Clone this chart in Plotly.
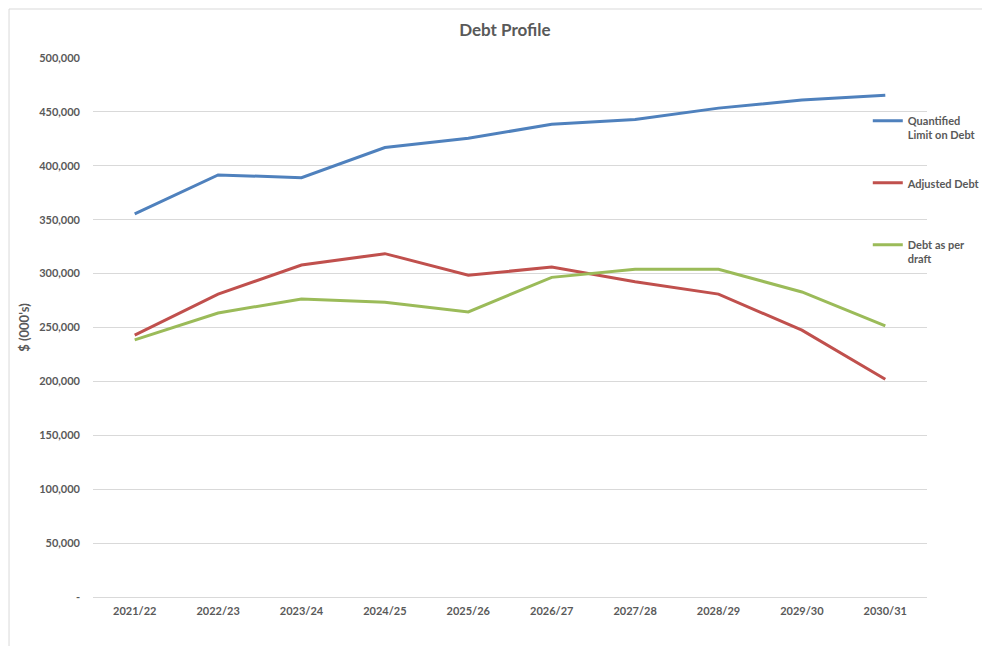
import plotly.graph_objects as go

years = ["2021/22", "2022/23", "2023/24", "2024/25", "2025/26",
         "2026/27", "2027/28", "2028/29", "2029/30", "2030/31"]
quantified_limit = [355500, 391500, 389000, 417000, 425500,
                    438500, 443000, 453500, 461000, 465500]
adjusted_debt = [243000, 281000, 308000, 318500, 298500,
                 306000, 292500, 281000, 247500, 202000]
debt_draft = [238500, 263500, 276500, 273500, 264500,
              296500, 304000, 304000, 283000, 251500]

y_ticks = [0, 50000, 100000, 150000, 200000, 250000,
           300000, 350000, 400000, 450000, 500000]
y_tick_text = ["-", "50,000", "100,000", "150,000", "200,000", "250,000",
               "300,000", "350,000", "400,000", "450,000", "500,000"]

FONT = "Lato"
GREY = "#595959"

series = [
    ("Quantified<br>Limit on Debt", quantified_limit, "#4F81BD", "legend", 0.909),
    ("Adjusted Debt", adjusted_debt, "#C0504D", "legend2", 0.794),
    ("Debt as per<br>draft", debt_draft, "#9BBB59", "legend3", 0.679),
]

fig = go.Figure()
for name, vals, color, leg, _ in series:
    fig.add_trace(go.Scatter(x=years, y=vals, name=name, mode="lines",
                             line=dict(color=color, width=3), legend=leg,
                             showlegend=True))

legend_style = dict(xanchor="left", yanchor="top", x=0.929, valign="top",
                    bgcolor="rgba(0,0,0,0)", borderwidth=0,
                    font=dict(family=FONT, size=11, color=GREY, weight="bold"))
fig.update_layout(
    width=982, height=638,
    margin=dict(l=85, r=63, t=50, b=49, autoexpand=False),
    showlegend=True,
    plot_bgcolor="white", paper_bgcolor="white",
    title=dict(text="Debt Profile", x=0.506, xanchor="center", y=0.975,
               font=dict(family=FONT, size=17, color=GREY, weight="bold")),
    font=dict(family=FONT, color=GREY),
    legend=dict(y=series[0][4], **legend_style),
    legend2=dict(y=series[1][4], **legend_style),
    legend3=dict(y=series[2][4], **legend_style),
    xaxis=dict(range=[-0.5, 9.5], showgrid=False, showline=True,
               linecolor="#d9d9d9", linewidth=1, ticks="",
               tickfont=dict(family=FONT, size=11, color=GREY, weight="bold"),
               ticklabelstandoff=4),
    yaxis=dict(range=[0, 500000], tickvals=y_ticks, ticktext=y_tick_text,
               showgrid=True, gridcolor="#d9d9d9", gridwidth=1, zeroline=False,
               tickfont=dict(family=FONT, size=11, color=GREY, weight="bold"),
               ticklabelstandoff=12,
               title=dict(text="$ (000's)", standoff=6,
                          font=dict(family=FONT, size=13, color=GREY, weight="bold"))),
    shapes=[
        dict(type="line", xref="paper", yref="paper", x0=-0.1007, x1=1.1,
             y0=1.0909, y1=1.0909, line=dict(color="#d9d9d9", width=1)),
        dict(type="line", xref="paper", yref="paper", x0=-0.1007, x1=-0.1007,
             y0=1.0909, y1=-0.2, line=dict(color="#d9d9d9", width=1)),
    ],
)

fig.write_html("out.html")
